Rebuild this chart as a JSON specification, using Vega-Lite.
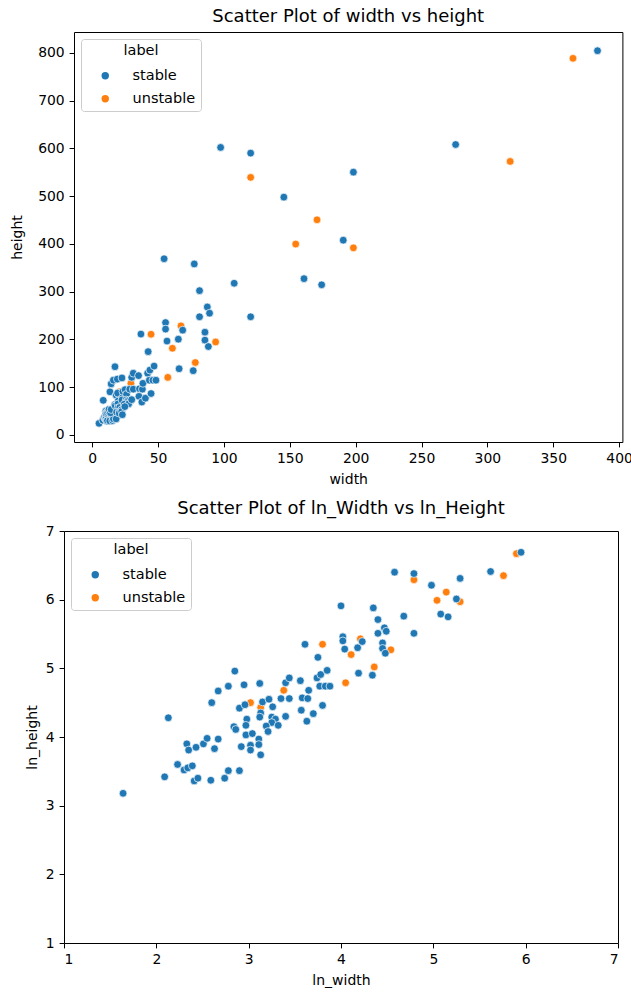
{
  "$schema": "https://vega.github.io/schema/vega-lite/v6.json",
  "background": "white",
  "padding": {"left": 10, "top": 8, "right": 0, "bottom": 0},
  "config": {
    "font": "DejaVu Sans",
    "view": {"stroke": "#000", "strokeWidth": 1},
    "axis": {"grid": false, "domain": false, "domainColor": "#000", "domainWidth": 1, "tickColor": "#000", "tickSize": 4.9, "labelPadding": 4.9, "labelFontSize": 13.9, "labelColor": "#000", "titleFontSize": 14, "titleFontWeight": "normal", "titleColor": "#000"},
    "axisX": {"titlePadding": 7},
    "title": {"fontSize": 18, "fontWeight": "normal", "color": "#000", "anchor": "middle", "offset": 6},
    "legend": {"orient": "top-left", "offset": 7, "padding": 5, "fillColor": "white", "strokeColor": "#cccccc", "cornerRadius": 3, "titleFontSize": 14.5, "titleFontWeight": "normal", "titleColor": "#000", "titleAnchor": "middle", "titleAlign": "center", "titlePadding": 10, "labelFontSize": 14.5, "labelColor": "#000", "symbolType": "circle", "symbolSize": 55, "symbolStrokeWidth": 0, "symbolOffset": 12, "labelOffset": 20, "rowPadding": 8}
  },
  "data": {"values": [
    {"label": "unstable", "width": 20.5, "height": 90.0, "ln_width": 3.02, "ln_height": 4.50},
    {"label": "unstable", "width": 22.9, "height": 83.9, "ln_width": 3.13, "ln_height": 4.43},
    {"label": "unstable", "width": 29.4, "height": 107.8, "ln_width": 3.38, "ln_height": 4.68},
    {"label": "unstable", "width": 44.7, "height": 210.6, "ln_width": 3.80, "ln_height": 5.35},
    {"label": "unstable", "width": 57.4, "height": 120.3, "ln_width": 4.05, "ln_height": 4.79},
    {"label": "unstable", "width": 60.9, "height": 181.3, "ln_width": 4.11, "ln_height": 5.20},
    {"label": "unstable", "width": 67.4, "height": 228.2, "ln_width": 4.21, "ln_height": 5.43},
    {"label": "unstable", "width": 78.3, "height": 151.4, "ln_width": 4.36, "ln_height": 5.02},
    {"label": "unstable", "width": 93.7, "height": 194.4, "ln_width": 4.54, "ln_height": 5.27},
    {"label": "unstable", "width": 120.3, "height": 539.1, "ln_width": 4.79, "ln_height": 6.29},
    {"label": "unstable", "width": 154.5, "height": 399.5, "ln_width": 5.04, "ln_height": 5.99},
    {"label": "unstable", "width": 170.7, "height": 450.3, "ln_width": 5.14, "ln_height": 6.11},
    {"label": "unstable", "width": 198.3, "height": 391.6, "ln_width": 5.29, "ln_height": 5.97},
    {"label": "unstable", "width": 317.3, "height": 572.5, "ln_width": 5.76, "ln_height": 6.35},
    {"label": "unstable", "width": 365.0, "height": 788.4, "ln_width": 5.90, "ln_height": 6.67},
    {"label": "stable", "width": 5.2, "height": 24.0, "ln_width": 1.64, "ln_height": 3.18},
    {"label": "stable", "width": 8.4, "height": 72.2, "ln_width": 2.13, "ln_height": 4.28},
    {"label": "stable", "width": 8.1, "height": 30.6, "ln_width": 2.09, "ln_height": 3.42},
    {"label": "stable", "width": 9.3, "height": 36.6, "ln_width": 2.23, "ln_height": 3.60},
    {"label": "stable", "width": 10.0, "height": 33.8, "ln_width": 2.30, "ln_height": 3.52},
    {"label": "stable", "width": 10.4, "height": 34.8, "ln_width": 2.34, "ln_height": 3.55},
    {"label": "stable", "width": 10.9, "height": 35.9, "ln_width": 2.39, "ln_height": 3.58},
    {"label": "stable", "width": 11.1, "height": 28.8, "ln_width": 2.41, "ln_height": 3.36},
    {"label": "stable", "width": 11.6, "height": 30.0, "ln_width": 2.45, "ln_height": 3.40},
    {"label": "stable", "width": 13.3, "height": 29.1, "ln_width": 2.59, "ln_height": 3.37},
    {"label": "stable", "width": 15.5, "height": 30.0, "ln_width": 2.74, "ln_height": 3.40},
    {"label": "stable", "width": 16.1, "height": 33.4, "ln_width": 2.78, "ln_height": 3.51},
    {"label": "stable", "width": 18.2, "height": 33.4, "ln_width": 2.90, "ln_height": 3.51},
    {"label": "stable", "width": 10.3, "height": 49.4, "ln_width": 2.33, "ln_height": 3.90},
    {"label": "stable", "width": 10.5, "height": 45.2, "ln_width": 2.35, "ln_height": 3.81},
    {"label": "stable", "width": 11.4, "height": 47.0, "ln_width": 2.43, "ln_height": 3.85},
    {"label": "stable", "width": 12.3, "height": 49.4, "ln_width": 2.51, "ln_height": 3.90},
    {"label": "stable", "width": 12.8, "height": 53.5, "ln_width": 2.55, "ln_height": 3.98},
    {"label": "stable", "width": 13.9, "height": 46.1, "ln_width": 2.63, "ln_height": 3.83},
    {"label": "stable", "width": 14.4, "height": 53.0, "ln_width": 2.67, "ln_height": 3.97},
    {"label": "stable", "width": 13.5, "height": 90.0, "ln_width": 2.60, "ln_height": 4.50},
    {"label": "stable", "width": 14.4, "height": 106.7, "ln_width": 2.67, "ln_height": 4.67},
    {"label": "stable", "width": 16.1, "height": 114.4, "ln_width": 2.78, "ln_height": 4.74},
    {"label": "stable", "width": 17.3, "height": 142.6, "ln_width": 2.85, "ln_height": 4.96},
    {"label": "stable", "width": 19.1, "height": 116.7, "ln_width": 2.95, "ln_height": 4.76},
    {"label": "stable", "width": 22.6, "height": 119.1, "ln_width": 3.12, "ln_height": 4.78},
    {"label": "stable", "width": 17.1, "height": 63.4, "ln_width": 2.84, "ln_height": 4.15},
    {"label": "stable", "width": 17.5, "height": 60.9, "ln_width": 2.86, "ln_height": 4.11},
    {"label": "stable", "width": 18.2, "height": 83.1, "ln_width": 2.90, "ln_height": 4.42},
    {"label": "stable", "width": 19.3, "height": 87.4, "ln_width": 2.96, "ln_height": 4.47},
    {"label": "stable", "width": 19.7, "height": 70.8, "ln_width": 2.98, "ln_height": 4.26},
    {"label": "stable", "width": 19.5, "height": 64.7, "ln_width": 2.97, "ln_height": 4.17},
    {"label": "stable", "width": 19.5, "height": 56.3, "ln_width": 2.97, "ln_height": 4.03},
    {"label": "stable", "width": 20.9, "height": 57.4, "ln_width": 3.04, "ln_height": 4.05},
    {"label": "stable", "width": 18.5, "height": 47.5, "ln_width": 2.92, "ln_height": 3.86},
    {"label": "stable", "width": 20.5, "height": 48.4, "ln_width": 3.02, "ln_height": 3.88},
    {"label": "stable", "width": 20.5, "height": 45.2, "ln_width": 3.02, "ln_height": 3.81},
    {"label": "stable", "width": 22.4, "height": 53.0, "ln_width": 3.11, "ln_height": 3.97},
    {"label": "stable", "width": 22.4, "height": 48.9, "ln_width": 3.11, "ln_height": 3.89},
    {"label": "stable", "width": 22.9, "height": 42.1, "ln_width": 3.13, "ln_height": 3.74},
    {"label": "stable", "width": 22.9, "height": 77.5, "ln_width": 3.13, "ln_height": 4.35},
    {"label": "stable", "width": 22.6, "height": 73.0, "ln_width": 3.12, "ln_height": 4.29},
    {"label": "stable", "width": 23.3, "height": 90.9, "ln_width": 3.15, "ln_height": 4.51},
    {"label": "stable", "width": 25.0, "height": 94.6, "ln_width": 3.22, "ln_height": 4.55},
    {"label": "stable", "width": 26.1, "height": 84.8, "ln_width": 3.26, "ln_height": 4.44},
    {"label": "stable", "width": 25.8, "height": 73.0, "ln_width": 3.25, "ln_height": 4.29},
    {"label": "stable", "width": 26.8, "height": 70.8, "ln_width": 3.29, "ln_height": 4.26},
    {"label": "stable", "width": 25.8, "height": 67.4, "ln_width": 3.25, "ln_height": 4.21},
    {"label": "stable", "width": 24.3, "height": 64.1, "ln_width": 3.19, "ln_height": 4.16},
    {"label": "stable", "width": 27.7, "height": 64.7, "ln_width": 3.32, "ln_height": 4.17},
    {"label": "stable", "width": 24.8, "height": 59.1, "ln_width": 3.21, "ln_height": 4.08},
    {"label": "stable", "width": 28.5, "height": 95.6, "ln_width": 3.35, "ln_height": 4.56},
    {"label": "stable", "width": 30.0, "height": 120.3, "ln_width": 3.40, "ln_height": 4.79},
    {"label": "stable", "width": 31.2, "height": 129.0, "ln_width": 3.44, "ln_height": 4.86},
    {"label": "stable", "width": 30.0, "height": 73.7, "ln_width": 3.40, "ln_height": 4.30},
    {"label": "stable", "width": 31.2, "height": 95.6, "ln_width": 3.44, "ln_height": 4.56},
    {"label": "stable", "width": 35.2, "height": 124.0, "ln_width": 3.56, "ln_height": 4.82},
    {"label": "stable", "width": 35.9, "height": 96.5, "ln_width": 3.58, "ln_height": 4.57},
    {"label": "stable", "width": 38.1, "height": 95.6, "ln_width": 3.64, "ln_height": 4.56},
    {"label": "stable", "width": 35.5, "height": 80.6, "ln_width": 3.57, "ln_height": 4.39},
    {"label": "stable", "width": 37.7, "height": 68.7, "ln_width": 3.63, "ln_height": 4.23},
    {"label": "stable", "width": 38.5, "height": 107.8, "ln_width": 3.65, "ln_height": 4.68},
    {"label": "stable", "width": 40.4, "height": 76.7, "ln_width": 3.70, "ln_height": 4.34},
    {"label": "stable", "width": 44.7, "height": 86.5, "ln_width": 3.80, "ln_height": 4.46},
    {"label": "stable", "width": 37.0, "height": 211.0, "ln_width": 3.61, "ln_height": 5.35},
    {"label": "stable", "width": 42.5, "height": 174.2, "ln_width": 3.75, "ln_height": 5.16},
    {"label": "stable", "width": 42.1, "height": 129.0, "ln_width": 3.74, "ln_height": 4.86},
    {"label": "stable", "width": 43.8, "height": 135.6, "ln_width": 3.78, "ln_height": 4.91},
    {"label": "stable", "width": 43.4, "height": 114.4, "ln_width": 3.77, "ln_height": 4.74},
    {"label": "stable", "width": 46.1, "height": 114.4, "ln_width": 3.83, "ln_height": 4.74},
    {"label": "stable", "width": 48.4, "height": 114.4, "ln_width": 3.88, "ln_height": 4.74},
    {"label": "stable", "width": 47.0, "height": 144.0, "ln_width": 3.85, "ln_height": 4.97},
    {"label": "stable", "width": 54.6, "height": 368.7, "ln_width": 4.00, "ln_height": 5.91},
    {"label": "stable", "width": 55.7, "height": 235.1, "ln_width": 4.02, "ln_height": 5.46},
    {"label": "stable", "width": 55.7, "height": 221.4, "ln_width": 4.02, "ln_height": 5.40},
    {"label": "stable", "width": 56.8, "height": 196.4, "ln_width": 4.04, "ln_height": 5.28},
    {"label": "stable", "width": 65.4, "height": 200.3, "ln_width": 4.18, "ln_height": 5.30},
    {"label": "stable", "width": 68.7, "height": 219.2, "ln_width": 4.23, "ln_height": 5.39},
    {"label": "stable", "width": 66.0, "height": 138.4, "ln_width": 4.19, "ln_height": 4.93},
    {"label": "stable", "width": 76.7, "height": 134.3, "ln_width": 4.34, "ln_height": 4.90},
    {"label": "stable", "width": 77.5, "height": 357.8, "ln_width": 4.35, "ln_height": 5.88},
    {"label": "stable", "width": 81.5, "height": 301.9, "ln_width": 4.40, "ln_height": 5.71},
    {"label": "stable", "width": 81.5, "height": 247.2, "ln_width": 4.40, "ln_height": 5.51},
    {"label": "stable", "width": 87.4, "height": 267.7, "ln_width": 4.47, "ln_height": 5.59},
    {"label": "stable", "width": 89.1, "height": 254.7, "ln_width": 4.49, "ln_height": 5.54},
    {"label": "stable", "width": 85.6, "height": 214.9, "ln_width": 4.45, "ln_height": 5.37},
    {"label": "stable", "width": 85.6, "height": 198.3, "ln_width": 4.45, "ln_height": 5.29},
    {"label": "stable", "width": 88.2, "height": 184.9, "ln_width": 4.48, "ln_height": 5.22},
    {"label": "stable", "width": 97.5, "height": 601.8, "ln_width": 4.58, "ln_height": 6.40},
    {"label": "stable", "width": 120.3, "height": 589.9, "ln_width": 4.79, "ln_height": 6.38},
    {"label": "stable", "width": 107.8, "height": 317.4, "ln_width": 4.68, "ln_height": 5.76},
    {"label": "stable", "width": 120.3, "height": 247.2, "ln_width": 4.79, "ln_height": 5.51},
    {"label": "stable", "width": 145.5, "height": 497.7, "ln_width": 4.98, "ln_height": 6.21},
    {"label": "stable", "width": 198.3, "height": 550.0, "ln_width": 5.29, "ln_height": 6.31},
    {"label": "stable", "width": 190.6, "height": 407.6, "ln_width": 5.25, "ln_height": 6.01},
    {"label": "stable", "width": 160.8, "height": 327.0, "ln_width": 5.08, "ln_height": 5.79},
    {"label": "stable", "width": 174.2, "height": 314.2, "ln_width": 5.16, "ln_height": 5.75},
    {"label": "stable", "width": 275.9, "height": 607.9, "ln_width": 5.62, "ln_height": 6.41},
    {"label": "stable", "width": 383.6, "height": 804.3, "ln_width": 5.95, "ln_height": 6.69}
  ]},
  "spacing": 12,
  "vconcat": [
    {
      "title": {"text": "Scatter Plot of width vs height", "dx": 5},
      "width": 558.4,
      "height": 410,
      "view": {"stroke": null},
      "layer": [
        {
          "mark": {"type": "point", "filled": true, "size": 60, "opacity": 0},
          "encoding": {
            "x": {"field": "width", "type": "quantitative", "scale": {"domain": [-13.8, 402.5], "range": [10, 558.4], "nice": false, "zero": false}, "axis": {"orient": "top", "title": null, "labels": false, "ticks": false, "domain": true}},
            "y": {"field": "height", "type": "quantitative", "scale": {"domain": [-15, 843.5], "nice": false, "zero": false}, "axis": {"orient": "right", "title": null, "labels": false, "ticks": false, "domain": true}}
          }
        },
        {
          "mark": {"type": "point", "filled": true, "size": 60, "opacity": 1, "stroke": "white", "strokeWidth": 0.7},
          "encoding": {
            "x": {"field": "width", "type": "quantitative", "title": "width", "scale": {"domain": [-13.8, 402.5], "range": [10, 558.4], "nice": false, "zero": false}, "axis": {"orient": "bottom", "domain": true, "values": [0, 50, 100, 150, 200, 250, 300, 350, 400]}},
            "y": {"field": "height", "type": "quantitative", "title": "height", "scale": {"domain": [-15, 843.5], "nice": false, "zero": false}, "axis": {"orient": "left", "offset": -10, "domain": true, "values": [0, 100, 200, 300, 400, 500, 600, 700, 800], "titlePadding": 13}},
            "color": {"field": "label", "type": "nominal", "title": "label", "scale": {"domain": ["stable", "unstable"], "range": ["#1f77b4", "#ff7f0e"]}, "legend": {"orient": "none", "legendX": 17, "legendY": 7}}
          }
        }
      ],
      "resolve": {"axis": {"x": "independent", "y": "independent"}}
    },
    {
      "title": "Scatter Plot of ln_Width vs ln_Height",
      "width": 554,
      "height": 412,
      "mark": {"type": "point", "filled": true, "size": 60, "opacity": 1, "stroke": "white", "strokeWidth": 0.7},
      "encoding": {
        "x": {"field": "ln_width", "type": "quantitative", "title": "ln_width", "scale": {"domain": [1, 7], "nice": false, "zero": false}, "axis": {"values": [1, 2, 3, 4, 5, 6, 7]}},
        "y": {"field": "ln_height", "type": "quantitative", "title": "ln_height", "scale": {"domain": [1, 7], "nice": false, "zero": false}, "axis": {"values": [1, 2, 3, 4, 5, 6, 7], "titlePadding": 6}},
        "color": {"field": "label", "type": "nominal", "title": "label", "scale": {"domain": ["stable", "unstable"], "range": ["#1f77b4", "#ff7f0e"]}}
      }
    }
  ],
  "resolve": {"scale": {"color": "shared"}, "legend": {"color": "independent"}}
}
